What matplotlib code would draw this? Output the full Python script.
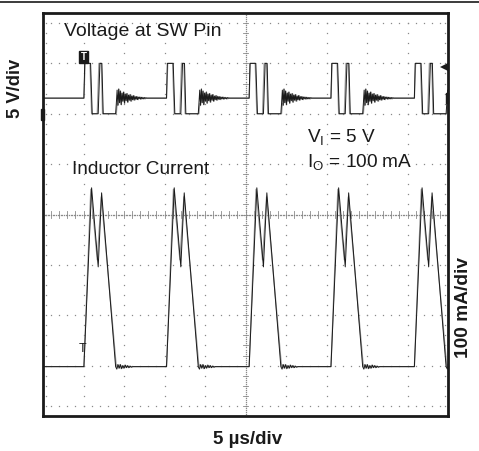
import matplotlib
matplotlib.use("Agg")
import matplotlib.pyplot as plt
from matplotlib.patches import Rectangle

plt.rcParams['font.family'] = ['Liberation Sans', 'DejaVu Sans']

# ---- data (in screen divisions: x 0..10, y 0..8) ----
burst_starts = [1.01, 3.05, 5.09, 7.11, 9.17]

# SW-pin voltage: one burst shape (time offset from burst start, level)
sw_t = [0.00, 0.02, 0.165, 0.205, 0.353, 0.395, 0.444, 0.477, 0.783, 0.80]
sw_v = [6.31, 7.00, 7.00, 6.00, 6.00, 7.00, 7.00, 6.00, 6.00, 6.20]
sw_base = 6.31
# ringing after the burst (offset from baseline), spaced 0.02 div
sw_ring = [0.16, -0.14, 0.18, -0.09, 0.14, -0.13, 0.10, -0.06, 0.12, -0.10,
           0.08, -0.05, 0.09, -0.08, 0.06, -0.04, 0.07, -0.06, 0.04, -0.03,
           0.05, -0.04, 0.03, -0.02, 0.03, -0.03, 0.02, -0.01, 0.02, -0.02,
           0.015, -0.01, 0.01, -0.015, 0.01, 0.0]

# inductor current: one burst shape
il_t = [0.00, 0.19, 0.353, 0.437, 0.783]
il_v = [0.98, 4.53, 2.96, 4.43, 0.98]
il_base = 0.98
il_ring = [-0.05, 0.04, -0.03, 0.04, -0.04, 0.02, -0.03, 0.03, -0.02, 0.02,
           -0.02, 0.01, -0.01, 0.0]

# second (gray) acquisition shape
sw_t_g = [0.00, 0.03, 0.15, 0.19, 0.33, 0.37, 0.43, 0.46, 0.80, 0.82]
il_t_g = [0.00, 0.17, 0.33, 0.43, 0.80]
il_v_g = [0.98, 4.50, 3.10, 4.35, 0.98]


def build(starts, t, v, base, ring, dt, x_end=10.0):
    xs, ys = [0.0], [base]
    for s in starts:
        for ti, vi in zip(t, v):
            xs.append(s + ti)
            ys.append(vi)
        t0 = s + t[-1]
        for k, r in enumerate(ring):
            xs.append(t0 + (k + 1) * dt)
            ys.append(base + r)
    xs.append(x_end)
    ys.append(base)
    pts = [(x, y) for x, y in zip(xs, ys) if x <= x_end]
    return [p[0] for p in pts], [p[1] for p in pts]


fig = plt.figure(figsize=(4.79, 4.51), dpi=100)
ax = fig.add_axes([43 / 479, 1 - 416 / 451, 405 / 479, 403 / 451])
ax.set_xlim(0, 10)
ax.set_ylim(0, 8)
ax.set_xticks([])
ax.set_yticks([])
for sp in ax.spines.values():
    sp.set_linewidth(2.0)
    sp.set_color('#1a1a1a')

gcol = '#8a8a8a'
# dotted graticule
for gx in range(1, 10):
    if gx == 5:
        continue
    ys = [0.2 * k for k in range(1, 40)]
    ax.plot([gx] * len(ys), ys, ls='none', marker='s', ms=0.9, color=gcol, mew=0)
for gy in range(1, 8):
    if gy == 4:
        continue
    xs = [0.2 * k for k in range(1, 50)]
    ax.plot(xs, [gy] * len(xs), ls='none', marker='s', ms=0.9, color=gcol, mew=0)
# center axes with ticks
xs = [0.04 * k for k in range(1, 250)]
ax.plot(xs, [4] * len(xs), ls='none', marker='s', ms=0.9, color=gcol, mew=0)
ys = [0.04 * k for k in range(1, 200)]
ax.plot([5] * len(ys), ys, ls='none', marker='s', ms=0.9, color=gcol, mew=0)
for k in range(1, 50):
    x = 0.2 * k
    ax.plot([x, x], [3.93, 4.07], color=gcol, lw=0.6)
for k in range(1, 40):
    y = 0.2 * k
    ax.plot([4.94, 5.06], [y, y], color=gcol, lw=0.6)
# border ticks
for k in range(1, 50):
    x = 0.2 * k
    ax.plot([x], [0.19], marker='s', ms=0.9, color=gcol, mew=0)
    ax.plot([x], [7.81], marker='s', ms=0.9, color=gcol, mew=0)
for k in range(1, 40):
    y = 0.2 * k
    ax.plot([0.08], [y], marker='s', ms=0.9, color=gcol, mew=0)
    ax.plot([9.92], [y], marker='s', ms=0.9, color=gcol, mew=0)

# traces: gray then black
gx_, gy_ = build(burst_starts, sw_t_g, sw_v, sw_base, sw_ring[1:], 0.021)
ax.plot(gx_, gy_, color='#9a9a9a', lw=0.9)
gx_, gy_ = build(burst_starts, il_t_g, il_v_g, il_base, il_ring[1:], 0.03)
ax.plot(gx_, gy_, color='#9a9a9a', lw=0.9)
bx_, by_ = build(burst_starts, sw_t, sw_v, sw_base, sw_ring, 0.02)
ax.plot(bx_, by_, color='#1a1a1a', lw=0.7)
bx_, by_ = build(burst_starts, il_t, il_v, il_base, il_ring, 0.03)
ax.plot(bx_, by_, color='#1a1a1a', lw=0.7)

# markers
ax.add_patch(Rectangle((0.89, 7.01), 0.22, 0.24, color='#1a1a1a', clip_on=False, zorder=5))
ax.text(1.0, 7.13, 'T', color='white', fontsize=7, fontweight='bold', ha='center', va='center', zorder=6)
ax.text(0.98, 1.33, 'T', color='#1a1a1a', fontsize=9, ha='center', va='center', zorder=6)
ax.add_patch(Rectangle((-0.05, 5.87), 0.08, 0.23, color='#1a1a1a', clip_on=False, zorder=5))
ax.add_patch(Rectangle((9.95, 6.21), 0.06, 0.2, color='#1a1a1a', clip_on=False, zorder=5))
ax.plot([9.9], [6.93], marker='<', ms=6, color='#1a1a1a', mew=0, clip_on=False, zorder=6)
ax.plot([9.9, 10.0], [6.93, 6.93], color='#1a1a1a', lw=0.8, clip_on=False)

# annotations
ax.text(0.53, 7.63, 'Voltage at SW Pin', fontsize=14, color='#1a1a1a', ha='left', va='center')
ax.text(0.72, 4.9, 'Inductor Current', fontsize=13.7, color='#1a1a1a', ha='left', va='center')
ax.text(6.52, 5.52, r'V$_\mathregular{I}$ = 5 V', fontsize=13.7, color='#1a1a1a', ha='left', va='center')
ax.text(6.52, 5.03, r'I$_\mathregular{O}$ = 100 mA', fontsize=13.7, color='#1a1a1a', ha='left', va='center')

fig.text(16 / 479, 1 - 88 / 451, '5 V/div', rotation=90, fontsize=13.2, fontweight='bold',
         ha='center', va='center', color='#1a1a1a')
fig.text(463 / 479, 1 - 308 / 451, '100 mA/div', rotation=90, fontsize=13.8, fontweight='bold',
         ha='center', va='center', color='#1a1a1a')
fig.text(248 / 479, 1 - 439 / 451, '5 µs/div', fontsize=13.5, fontweight='bold',
         ha='center', va='center', color='#1a1a1a')

# top rule
fig.add_artist(plt.Line2D([0, 1], [1 - 2 / 451, 1 - 2 / 451], color='#1a1a1a', lw=1.2))

fig.savefig('out.png', dpi=100)
